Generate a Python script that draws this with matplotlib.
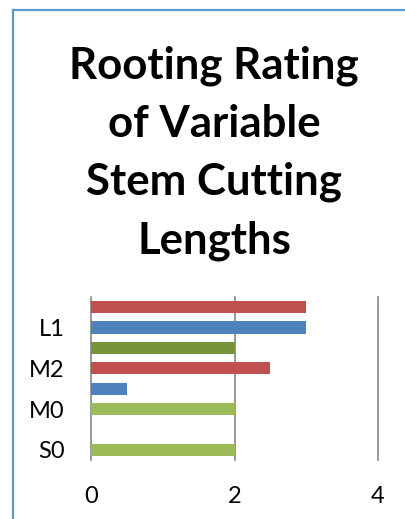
import matplotlib
matplotlib.use("Agg")
import matplotlib.pyplot as plt
from matplotlib.lines import Line2D

# Data (bottom to top)
categories = ["S0", "S1", "M0", "M1", "M2", "L0", "L1", "L2"]
values = [2, 0, 2, 0.5, 2.5, 2, 3, 3]
bar_colors = ["#9BBB59", "#9BBB59", "#9BBB59", "#4F81BD", "#C0504D",
              "#77933C", "#4F81BD", "#C0504D"]
shown_labels = ["S0", "", "M0", "", "M2", "", "L1", ""]
x_ticks = [0, 2, 4]
title = "Rooting Rating\nof Variable\nStem Cutting\nLengths"

plt.rcParams['font.family'] = ['Lato', 'DejaVu Sans']

fig = plt.figure(figsize=(4.05, 5.19), dpi=100)
fig.patch.set_facecolor("white")

# chart-area border (left and top visible)
border_color = "#5B9BD5"
fig.add_artist(Line2D([13 / 405, 13 / 405], [0, 1 - 10 / 519], transform=fig.transFigure,
                      color=border_color, lw=1.6))
fig.add_artist(Line2D([13 / 405, 1], [1 - 10 / 519, 1 - 10 / 519], transform=fig.transFigure,
                      color=border_color, lw=1.6))

ax = fig.add_axes([91 / 405, 1 - 460 / 519, (378 - 91) / 405, (460 - 297) / 519])
pos = list(range(len(categories)))
ax.barh(pos, values, height=0.6, color=bar_colors, zorder=3)
ax.set_xlim(0, 4)
ax.set_ylim(-0.5, len(categories) - 0.5)
ax.set_xticks(x_ticks)
ax.set_xticklabels([str(t) for t in x_ticks])
ax.set_yticks(pos)
ax.set_yticklabels(shown_labels)
for s in ax.spines.values():
    s.set_visible(False)
for t in x_ticks:
    ax.axvline(t, color="#868686", lw=1.2, zorder=1, clip_on=False)
ax.tick_params(axis="both", length=0, labelsize=17, colors="black")
ax.tick_params(axis="y", pad=19)
ax.tick_params(axis="x", pad=19)

fig.text(214 / 405, 1 - 45 / 519, title, ha="center", va="top",
         fontsize=31.5, fontweight="bold", linespacing=1.55)

fig.savefig("out.png", dpi=100)
